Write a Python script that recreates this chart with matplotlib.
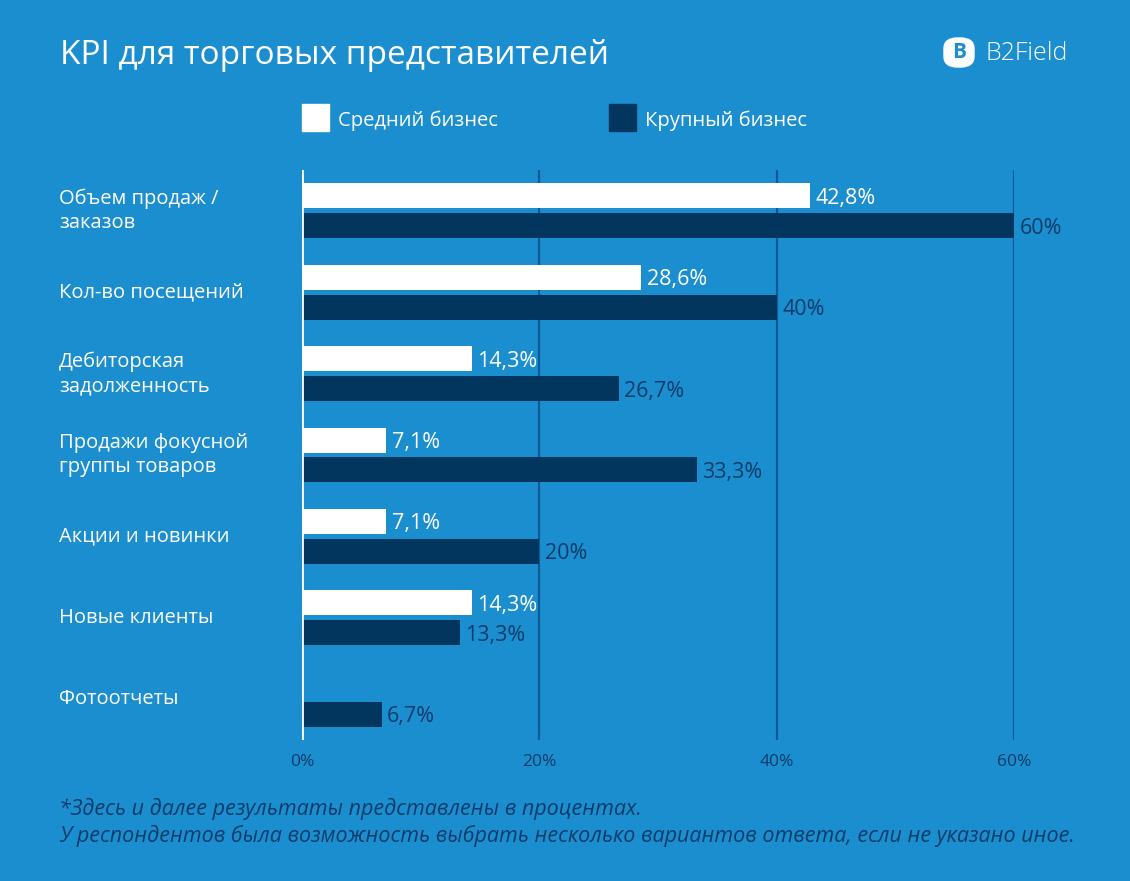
#!/usr/bin/env python3
# -*- coding: utf-8 -*-
#
# KPI для торговых представителей: horizontal grouped bars.

import numpy as np
import matplotlib.pyplot as plt
import matplotlib.transforms as mtransforms
from matplotlib.patches import FancyBboxPatch

# Data.
categories = ["Объем продаж /\nзаказов", "Кол-во посещений",
              "Дебиторская\nзадолженность", "Продажи фокусной\nгруппы товаров",
              "Акции и новинки", "Новые клиенты", "Фотоотчеты"]
medium = [42.8, 28.6, 14.3, 7.1, 7.1, 14.3, np.nan]
large = [60, 40, 26.7, 33.3, 20, 13.3, 6.7]
series_names = ["Средний бизнес", "Крупный бизнес"]
x_ticks = [0, 20, 40, 60]

BG = "#1b8ecf"
DARK = "#03365f"
GRID = "#0b5a96"
TXT_DARK = "#0a3c6a"
FONT = "Open Sans"

plt.rcParams['font.family'] = [FONT, 'DejaVu Sans']


def pct(v):
    """ Format a value the Russian way: 42,8% or 60%. """
    s = ("%.1f" % v).rstrip('0').rstrip('.')
    return s.replace('.', ',') + "%"


fig = plt.figure(figsize=(11.3, 8.81), dpi=100, facecolor=BG)
ax = fig.add_axes([302 / 1130, 1 - 740 / 881, 712 / 1130, 570 / 881])
ax.set_facecolor(BG)

y = np.arange(len(categories))
h = 25 / 81.5
off = 15 / 81.5

ax.barh(y - off, medium, height=h, color="white", zorder=3)
ax.barh(y + off, large, height=h, color=DARK, zorder=3)

# Value labels.
for yi, v in zip(y, medium):
    if not np.isnan(v):
        ax.text(v + 0.45, yi - off, pct(v), color="white", fontsize=15.5,
                va='center_baseline', ha='left')
for yi, v in zip(y, large):
    ax.text(v + 0.45, yi + off, pct(v), color=TXT_DARK, fontsize=15.5,
            va='center_baseline', ha='left')

ax.set_xlim(0, 60)
ax.set_ylim(len(categories) - 0.5, -0.5)
ax.set_yticks([])
ax.set_xticks(x_ticks)
ax.set_xticklabels([pct(t) for t in x_ticks], color=TXT_DARK, fontsize=12.5)
ax.tick_params(axis='x', length=0, pad=10)
for s in ax.spines.values():
    s.set_visible(False)
for t in x_ticks[1:]:
    ax.axvline(t, color=GRID, lw=1.6, zorder=1)
ax.axvline(0, color="white", lw=2, zorder=4)

# Category labels on the left: x in figure, y in data.
trans = mtransforms.blended_transform_factory(fig.transFigure, ax.transData)
for yi, c in zip(y, categories):
    ax.text(59 / 1130, yi, c, color="white", fontsize=14.5,
            va='center', ha='left', linespacing=1.3, transform=trans,
            clip_on=False)

# Title, legend, logo, footnote.
fig.text(60 / 1130, 1 - 52 / 881, "KPI для торговых представителей",
         color="white", fontsize=24, va='center_baseline', ha='left')

for x0, col, name in [(302, "white", series_names[0]),
                      (609, DARK, series_names[1])]:
    fig.patches.append(plt.Rectangle((x0 / 1130, 1 - 131 / 881), 27 / 1130,
                                     27 / 881, transform=fig.transFigure,
                                     color=col, figure=fig))
    fig.text((x0 + 36) / 1130, 1 - 118 / 881, name, color="white",
             fontsize=14.5, va='center_baseline', ha='left')

fig.patches.append(FancyBboxPatch((944 / 1130, 1 - 67 / 881), 30 / 1130,
                                  29 / 881, boxstyle="round,pad=0,rounding_size=0.012",
                                  transform=fig.transFigure, color="white",
                                  figure=fig))
fig.text(959 / 1130, 1 - 53 / 881, "B", color=BG, fontsize=15,
         fontweight='bold', va='center', ha='center')
fig.text(985 / 1130, 1 - 53 / 881, "B2Field", color="white", fontsize=18,
         fontweight='light', va='center', ha='left')

fig.text(59 / 1130, 1 - 806 / 881,
         "*Здесь и далее результаты представлены в процентах.",
         color=TXT_DARK, fontsize=15.5, style='italic',
         va='center_baseline', ha='left')
fig.text(59 / 1130, 1 - 833 / 881,
         "У респондентов была возможность выбрать несколько вариантов ответа, "
         "если не указано иное.",
         color=TXT_DARK, fontsize=15.5, style='italic',
         va='center_baseline', ha='left')

fig.savefig("out.png", dpi=100, facecolor=BG)
